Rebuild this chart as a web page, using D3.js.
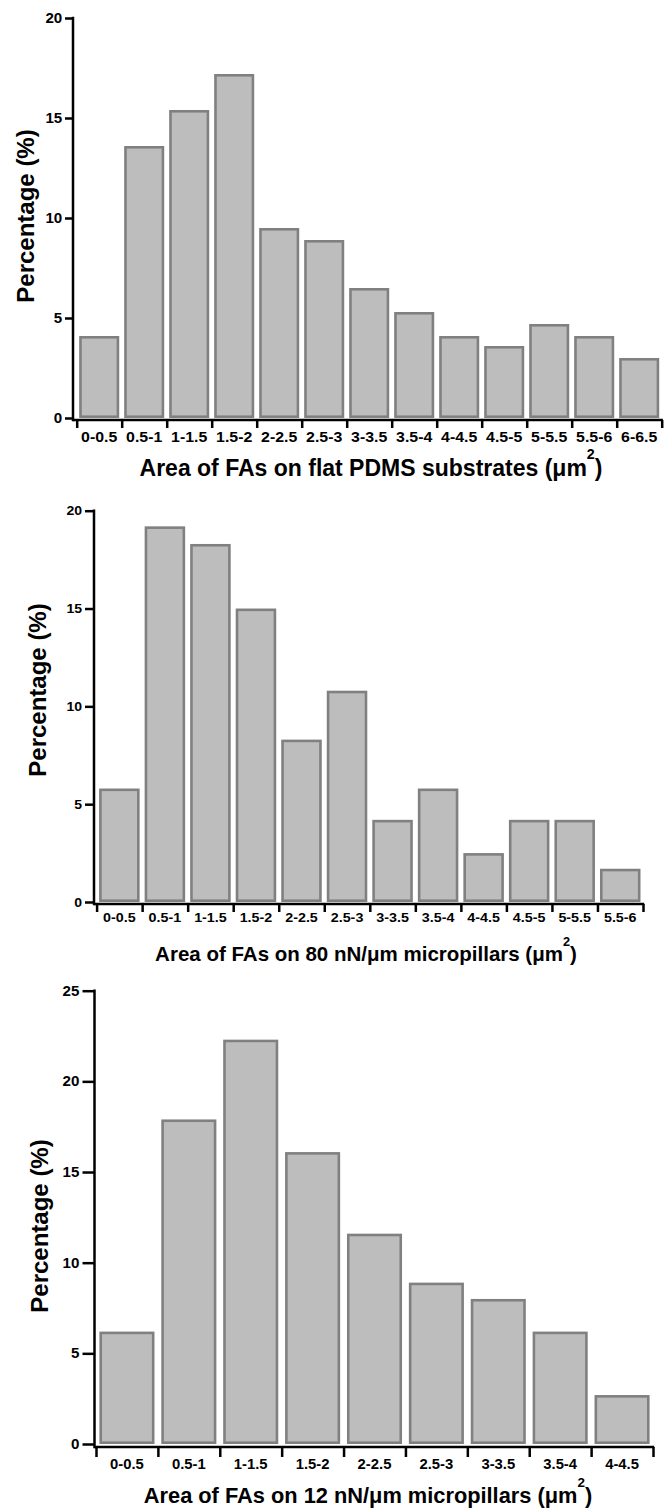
<!DOCTYPE html>
<html>
<head>
<meta charset="utf-8">
<script src="https://cdn.jsdelivr.net/npm/d3@7/dist/d3.min.js"></script>
<style>
  body { margin: 0; background: #fff; }
  svg text { font-family: "Liberation Sans", Arial, sans-serif; font-weight: bold; fill: #000; }
</style>
</head>
<body>
<div id="figure"></div>
<script>
// Data (percent of FAs per area bin)
const flatBins = ["0-0.5", "0.5-1", "1-1.5", "1.5-2", "2-2.5", "2.5-3", "3-3.5", "3.5-4", "4-4.5", "4.5-5", "5-5.5", "5.5-6", "6-6.5"];
const flatValues = [4.1, 13.6, 15.4, 17.2, 9.5, 8.9, 6.5, 5.3, 4.1, 3.6, 4.7, 4.1, 3.0];
const flatTicks = [0, 5, 10, 15, 20];

const pillar80Bins = ["0-0.5", "0.5-1", "1-1.5", "1.5-2", "2-2.5", "2.5-3", "3-3.5", "3.5-4", "4-4.5", "4.5-5", "5-5.5", "5.5-6"];
const pillar80Values = [5.8, 19.2, 18.3, 15.0, 8.3, 10.8, 4.2, 5.8, 2.5, 4.2, 4.2, 1.7];
const pillar80Ticks = [0, 5, 10, 15, 20];

const pillar12Bins = ["0-0.5", "0.5-1", "1-1.5", "1.5-2", "2-2.5", "2.5-3", "3-3.5", "3.5-4", "4-4.5"];
const pillar12Values = [6.2, 17.9, 22.3, 16.1, 11.6, 8.9, 8.0, 6.2, 2.7];
const pillar12Ticks = [0, 5, 10, 15, 20, 25];

const W = 664, H = 1512;

const svg = d3.select("#figure")
  .append("svg")
    .attr("width", W)
    .attr("height", H);

function drawChart(c) {
  const g = svg.append("g");

  // y scale: zero line and top tick
  const y = d3.scaleLinear()
      .domain([0, c.yTicks[c.yTicks.length - 1]])
      .range([c.y0, c.yTop]);

  // tick boundaries along x and band for bars
  const xb = d3.scaleLinear()
      .domain([0, c.bins.length])
      .range([c.xLeft, c.xRight]);
  const x = d3.scaleBand()
      .domain(c.bins)
      .range([c.xLeft, c.xRight])
      .paddingInner(0.11)
      .paddingOuter(0.055);

  // bars
  const sw = 2.6;
  g.selectAll("rect.bar")
    .data(c.values)
    .join("rect")
      .attr("class", "bar")
      .attr("x", (d, i) => x(c.bins[i]) + sw / 2)
      .attr("width", x.bandwidth() - sw)
      .attr("y", d => y(d) + sw / 2)
      .attr("height", d => y(0) - y(d) - sw)
      .attr("fill", "#bdbdbd")
      .attr("stroke", "#808080")
      .attr("stroke-width", sw);

  // y axis
  const yAxis = g.append("g")
      .attr("transform", `translate(${c.axisX},0)`)
      .call(d3.axisLeft(y).tickValues(c.yTicks).tickSize(c.yTickLen).tickSizeOuter(0).tickPadding(2));
  yAxis.select(".domain").remove();
  yAxis.selectAll("line").attr("stroke", "#000").attr("stroke-width", 2.5);
  yAxis.selectAll("text")
      .style("font-size", c.yNumSize + "px")
      .attr("transform", "scale(1.08,1)");
  g.append("line")
      .attr("x1", c.axisX).attr("x2", c.axisX)
      .attr("y1", y(c.yTicks[c.yTicks.length - 1]) - 1.2)
      .attr("y2", c.xAxisY + 1.2)
      .attr("stroke", "#000").attr("stroke-width", 2.5);

  // x axis: ticks at bin boundaries, labels centred in bins
  const xAxis = g.append("g")
      .attr("transform", `translate(0,${c.xAxisY})`)
      .call(d3.axisBottom(xb).tickValues(d3.range(c.bins.length + 1)).tickFormat("").tickSize(c.xTickLen).tickSizeOuter(0));
  xAxis.select(".domain").remove();
  xAxis.selectAll("line").attr("stroke", "#000").attr("stroke-width", 2.5);
  g.append("line")
      .attr("x1", c.axisX).attr("x2", c.xRight + 1.2)
      .attr("y1", c.xAxisY).attr("y2", c.xAxisY)
      .attr("stroke", "#000").attr("stroke-width", 2.5);

  g.selectAll("text.binlabel")
    .data(c.bins)
    .join("text")
      .attr("class", "binlabel")
      .attr("text-anchor", "middle")
      .style("font-size", c.binSize + "px")
      .attr("transform", d => `translate(${x(d) + x.bandwidth() / 2},${c.binY}) scale(1.06,1)`)
      .text(d => d);

  // x title with superscript
  const t = g.append("text")
      .attr("text-anchor", "middle")
      .attr("x", c.titleX)
      .attr("y", c.titleY)
      .style("font-size", c.titleSize + "px");
  t.append("tspan").text(c.title + " (μm");
  t.append("tspan")
      .style("font-size", (c.titleSize * 0.62) + "px")
      .attr("dy", -c.titleSize * 0.72)
      .text("2");
  t.append("tspan")
      .attr("dy", c.titleSize * 0.72)
      .text(")");

  // y title
  g.append("text")
      .attr("text-anchor", "middle")
      .style("font-size", c.ylabelSize + "px")
      .attr("transform", `translate(${c.ylabelX},${c.ylabelY}) rotate(-90)`)
      .text("Percentage (%)");
}

drawChart({
  bins: flatBins, values: flatValues, yTicks: flatTicks,
  axisX: 73, y0: 418, yTop: 18, yTickLen: 8, yNumSize: 14,
  xLeft: 76.7, xRight: 661.7, xAxisY: 420, xTickLen: 8,
  binY: 442, binSize: 15,
  title: "Area of FAs on flat PDMS substrates", titleX: 371, titleY: 476, titleSize: 23,
  ylabelX: 34, ylabelY: 216, ylabelSize: 24
});

drawChart({
  bins: pillar80Bins, values: pillar80Values, yTicks: pillar80Ticks,
  axisX: 94, y0: 902, yTop: 510.7, yTickLen: 9, yNumSize: 13,
  xLeft: 96.6, xRight: 643, xAxisY: 904, xTickLen: 8,
  binY: 922, binSize: 13.5,
  title: "Area of FAs on 80 nN/μm micropillars", titleX: 366, titleY: 961, titleSize: 20.5,
  ylabelX: 46, ylabelY: 690, ylabelSize: 24
});

drawChart({
  bins: pillar12Bins, values: pillar12Values, yTicks: pillar12Ticks,
  axisX: 94.5, y0: 1444, yTop: 990.7, yTickLen: 12, yNumSize: 14,
  xLeft: 96, xRight: 653, xAxisY: 1447, xTickLen: 10,
  binY: 1469, binSize: 14,
  title: "Area of FAs on 12 nN/μm micropillars", titleX: 368, titleY: 1503, titleSize: 21.8,
  ylabelX: 48, ylabelY: 1226, ylabelSize: 24
});
</script>
</body>
</html>
